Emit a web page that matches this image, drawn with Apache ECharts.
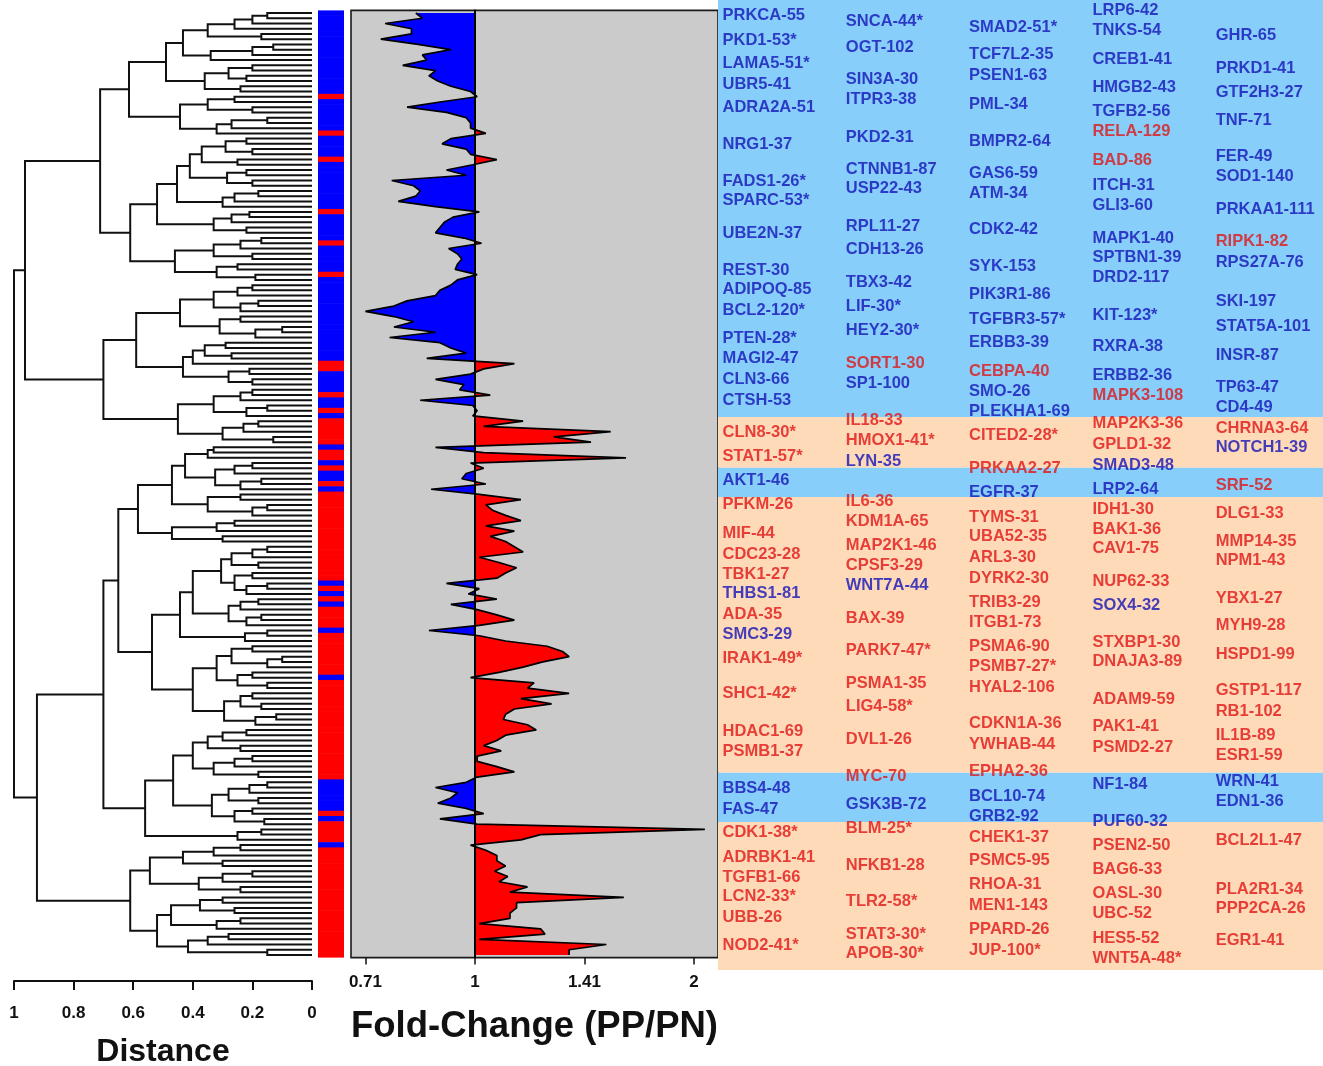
<!DOCTYPE html>
<html>
<head>
<meta charset="utf-8">
<title>Fold-Change (PP/PN)</title>
<script src="https://cdn.jsdelivr.net/npm/echarts@6/dist/echarts.min.js"></script>
<style>
html, body { margin: 0; padding: 0; background: #fff; }
#chart { width: 1323px; height: 1066px; }
</style>
</head>
<body>
<div id="chart"></div>
<script>
// log2 fold-change (PP/PN) for each leaf, top to bottom
var fcLog2 = [
    -0.27, -0.24, -0.41, -0.29, -0.29, -0.43, -0.26, -0.11, -0.24, -0.22,
    -0.33, -0.18, -0.21, -0.17, -0.11, -0.02, 0.01, -0.16, -0.31, -0.13,
    -0.04, -0.02, -0.02, 0.05, -0.11, -0.15, -0.04, -0.02, 0.10, -0.01,
    -0.13, -0.04, -0.38, -0.28, -0.25, -0.27, -0.35, -0.18, 0.02, -0.10,
    -0.14, -0.16, -0.18, -0.05, 0.03, -0.12, -0.08, -0.06, -0.08, -0.09,
    0.01, -0.08, -0.11, -0.16, -0.18, -0.31, -0.37, -0.50, -0.37, -0.28,
    -0.37, -0.18, -0.39, -0.16, -0.11, -0.04, -0.22, 0.18, 0.04, -0.02,
    -0.18, -0.05, -0.07, 0.07, -0.25, -0.01, 0.01, -0.01, 0.22, 0.04,
    0.62, 0.36, 0.53, -0.18, 0.04, 0.69, -0.02, 0.04, -0.04, -0.06,
    0.05, -0.20, 0.02, 0.21, 0.05, 0.08, 0.14, 0.21, 0.05, 0.18,
    0.07, 0.14, 0.18, 0.22, 0.02, 0.11, 0.19, 0.14, 0.10, -0.13,
    0.02, -0.03, 0.10, -0.11, 0.01, 0.10, 0.18, 0.02, -0.21, 0.02,
    0.14, 0.33, 0.40, 0.43, 0.31, 0.22, 0.11, -0.02, 0.27, 0.24,
    0.43, 0.21, 0.35, 0.18, 0.14, 0.13, 0.24, 0.28, 0.14, 0.10,
    0.04, 0.12, 0.01, 0.01, 0.10, 0.18, 0.01, -0.04, -0.18, -0.08,
    -0.11, -0.17, -0.04, 0.04, -0.16, 0.01, 1.05, 0.30, 0.21, -0.02,
    0.05, 0.10, 0.10, 0.14, 0.09, 0.15, 0.11, 0.24, 0.16, 0.68,
    0.19, 0.19, 0.16, 0.16, 0.02, 0.30, 0.32, 0.02, 0.60, 0.43, 0.43
];

// fold-change axis ticks (log2 position and printed label)
var fcTickPos = [-0.5, 0, 0.5, 1];
var fcTickLabels = ['0.71', '1', '1.41', '2'];

// dendrogram: [height, upper, lower], a leaf is 0
var treeA1 = [0.711,
    [0.614,
        [0.49,
            [0.433, [0.35, [0.26, [0.2, [0.15, 0, 0], 0], 0], [0.17, 0, 0]], [0.34, [0.2, [0.13, 0, 0], 0], 0]],
            [0.36, [0.28, [0.2, 0, 0], [0.22, 0, 0]], [0.24, 0, 0]]],
        [0.443, [0.35, [0.26, 0, 0], [0.2, 0, 0]], [0.32, [0.27, [0.15, 0, 0], 0], 0]]],
    [0.61,
        [0.52,
            [0.453,
                [0.41, [0.37, [0.29, [0.22, 0, 0], [0.2, 0, 0]], [0.25, 0, 0]], [0.285, [0.22, 0, 0], [0.2, 0, 0]]],
                [0.3, [0.26, [0.18, 0, 0], 0], 0]],
            [0.33, [0.27, [0.21, 0, 0], 0], [0.22, 0, 0]]],
        [0.46, [0.33, [0.24, [0.17, 0, 0], 0], [0.2, 0, 0]], [0.32, [0.25, 0, 0], [0.19, 0, 0]]]]];
var treeA2 = [0.70,
    [0.59,
        [0.443, [0.33, [0.25, [0.2, 0, 0], 0], [0.24, [0.18, 0, 0], 0]], [0.31, [0.24, 0, 0], [0.19, [0.1, 0, 0], 0]]],
        [0.433, [0.40, [0.36, [0.29, 0, 0], [0.27, 0, 0]], 0], [0.28, [0.21, 0, 0], [0.2, 0, 0]]]],
    [0.45, [0.33, [0.24, [0.2, 0, 0], 0], [0.22, [0.15, 0, 0], 0]], [0.3, [0.23, [0.18, 0, 0], 0], [0.13, 0, 0]]]];
var treeB1 = [0.70,
    [0.65,
        [0.584,
            [0.47,
                [0.426, [0.35, [0.33, 0, 0], 0], [0.325, [0.26, [0.2, 0, 0], 0], [0.24, [0.17, 0, 0], 0]]],
                [0.35, [0.24, 0, 0], [0.2, [0.15, 0, 0], 0]]],
            [0.47, [0.32, [0.26, 0, 0], 0], [0.3, 0, 0]]],
        [0.537,
            [0.443,
                [0.40,
                    [0.305, [0.27, [0.2, [0.15, 0, 0], 0], [0.18, 0, 0]], [0.26, [0.2, 0, 0], [0.22, [0.15, 0, 0], 0]]],
                    [0.28, [0.24, [0.18, 0, 0], 0], [0.22, [0.17, 0, 0], 0]]],
                [0.225, [0.15, 0, 0], 0]],
            [0.40,
                [0.32, [0.27, [0.2, 0, 0], [0.15, [0.1, 0, 0], 0]], [0.25, [0.2, 0, 0], [0.15, 0, 0]]],
                [0.295, [0.24, [0.2, 0, 0], [0.17, 0, 0]], [0.19, [0.12, 0, 0], 0]]]]],
    [0.56,
        [0.466,
            [0.40, [0.35, [0.3, [0.22, 0, 0], 0], [0.24, 0, 0]], [0.33, [0.26, [0.2, 0, 0], 0], [0.18, 0, 0]]],
            [0.336, [0.28, [0.21, [0.15, 0, 0], 0], [0.18, 0, 0]], [0.26, [0.2, 0, 0], [0.16, 0, 0]]]],
        [0.25, [0.17, 0, 0], 0]]];
var treeB2 = [0.61,
    [0.544, [0.433, [0.33, [0.24, 0, 0], 0], [0.3, 0, 0]], [0.38, [0.3, [0.2, 0, 0], 0], [0.24, 0, 0]]],
    [0.52, [0.473, [0.376, [0.3, 0, 0], [0.26, 0, 0]], [0.32, [0.24, 0, 0], 0]], [0.416, [0.35, [0.28, 0, 0], 0], [0.15, 0, 0]]]];
var treeRoot = [1.0, [0.963, treeA1, treeA2], [0.923, treeB1, treeB2]];

// distance axis ticks
var distTicks = [0, 0.2, 0.4, 0.6, 0.8, 1];

// gene labels, five columns; rows are leaf positions
var col1Genes = ['PRKCA-55', 'PKD1-53*', 'LAMA5-51*', 'UBR5-41', 'ADRA2A-51', 'NRG1-37', 'FADS1-26*', 'SPARC-53*', 'UBE2N-37', 'REST-30', 'ADIPOQ-85', 'BCL2-120*', 'PTEN-28*', 'MAGI2-47', 'CLN3-66', 'CTSH-53', 'CLN8-30*', 'STAT1-57*', 'AKT1-46', 'PFKM-26', 'MIF-44', 'CDC23-28', 'TBK1-27', 'THBS1-81', 'ADA-35', 'SMC3-29', 'IRAK1-49*', 'SHC1-42*', 'HDAC1-69', 'PSMB1-37', 'BBS4-48', 'FAS-47', 'CDK1-38*', 'ADRBK1-41', 'TGFB1-66', 'LCN2-33*', 'UBB-26', 'NOD2-41*'];
var col1Rows = [0.4, 5.2, 9.6, 13.6, 18.0, 25.2, 32.1, 35.9, 42.2, 49.1, 52.9, 56.8, 62.1, 66.1, 70.1, 74.0, 80.1, 84.7, 89.4, 94.0, 99.4, 103.4, 107.2, 111.0, 114.9, 118.7, 123.3, 130.1, 137.2, 141.2, 148.1, 152.1, 156.5, 161.3, 165.1, 168.9, 172.8, 178.1];
var col2Genes = ['SNCA-44*', 'OGT-102', 'SIN3A-30', 'ITPR3-38', 'PKD2-31', 'CTNNB1-87', 'USP22-43', 'RPL11-27', 'CDH13-26', 'TBX3-42', 'LIF-30*', 'HEY2-30*', 'SORT1-30', 'SP1-100', 'IL18-33', 'HMOX1-41*', 'LYN-35', 'IL6-36', 'KDM1A-65', 'MAP2K1-46', 'CPSF3-29', 'WNT7A-44', 'BAX-39', 'PARK7-47*', 'PSMA1-35', 'LIG4-58*', 'DVL1-26', 'MYC-70', 'GSK3B-72', 'BLM-25*', 'NFKB1-28', 'TLR2-58*', 'STAT3-30*', 'APOB-30*'];
var col2Rows = [1.7, 6.5, 12.6, 16.6, 23.7, 29.8, 33.6, 40.7, 45.1, 51.4, 56.0, 60.6, 66.9, 70.7, 77.8, 81.6, 85.6, 93.3, 97.1, 101.7, 105.5, 109.3, 115.6, 121.9, 128.2, 132.6, 138.9, 145.8, 151.2, 155.9, 162.8, 169.7, 176.0, 179.8];
var col3Genes = ['SMAD2-51*', 'TCF7L2-35', 'PSEN1-63', 'PML-34', 'BMPR2-64', 'GAS6-59', 'ATM-34', 'CDK2-42', 'SYK-153', 'PIK3R1-86', 'TGFBR3-57*', 'ERBB3-39', 'CEBPA-40', 'SMO-26', 'PLEKHA1-69', 'CITED2-28*', 'PRKAA2-27', 'EGFR-37', 'TYMS-31', 'UBA52-35', 'ARL3-30', 'DYRK2-30', 'TRIB3-29', 'ITGB1-73', 'PSMA6-90', 'PSMB7-27*', 'HYAL2-106', 'CDKN1A-36', 'YWHAB-44', 'EPHA2-36', 'BCL10-74', 'GRB2-92', 'CHEK1-37', 'PSMC5-95', 'RHOA-31', 'MEN1-143', 'PPARD-26', 'JUP-100*'];
var col3Rows = [2.7, 8.0, 11.9, 17.4, 24.5, 30.6, 34.4, 41.3, 48.4, 53.7, 58.5, 62.9, 68.4, 72.4, 76.1, 80.8, 87.0, 91.7, 96.3, 100.1, 104.0, 108.0, 112.6, 116.4, 121.0, 124.8, 128.8, 135.7, 139.7, 145.0, 149.8, 153.5, 157.5, 162.0, 166.6, 170.6, 175.2, 179.1];
var col4Genes = ['LRP6-42', 'TNKS-54', 'CREB1-41', 'HMGB2-43', 'TGFB2-56', 'RELA-129', 'BAD-86', 'ITCH-31', 'GLI3-60', 'MAPK1-40', 'SPTBN1-39', 'DRD2-117', 'KIT-123*', 'RXRA-38', 'ERBB2-36', 'MAPK3-108', 'MAP2K3-36', 'GPLD1-32', 'SMAD3-48', 'LRP2-64', 'IDH1-30', 'BAK1-36', 'CAV1-75', 'NUP62-33', 'SOX4-32', 'STXBP1-30', 'DNAJA3-89', 'ADAM9-59', 'PAK1-41', 'PSMD2-27', 'NF1-84', 'PUF60-32', 'PSEN2-50', 'BAG6-33', 'OASL-30', 'UBC-52', 'HES5-52', 'WNT5A-48*'];
var col4Rows = [-0.4, 3.4, 8.8, 14.3, 18.9, 22.7, 28.1, 32.9, 36.7, 43.0, 46.8, 50.6, 57.7, 63.8, 69.2, 73.0, 78.5, 82.4, 86.4, 91.0, 94.8, 98.6, 102.4, 108.7, 113.3, 120.2, 124.0, 131.1, 136.4, 140.3, 147.5, 154.4, 159.0, 163.6, 168.2, 172.0, 176.8, 180.6];
var col5Genes = ['GHR-65', 'PRKD1-41', 'GTF2H3-27', 'TNF-71', 'FER-49', 'SOD1-140', 'PRKAA1-111', 'RIPK1-82', 'RPS27A-76', 'SKI-197', 'STAT5A-101', 'INSR-87', 'TP63-47', 'CD4-49', 'CHRNA3-64', 'NOTCH1-39', 'SRF-52', 'DLG1-33', 'MMP14-35', 'NPM1-43', 'YBX1-27', 'MYH9-28', 'HSPD1-99', 'GSTP1-117', 'RB1-102', 'IL1B-89', 'ESR1-59', 'WRN-41', 'EDN1-36', 'BCL2L1-47', 'PLA2R1-34', 'PPP2CA-26', 'EGR1-41'];
var col5Rows = [4.2, 10.5, 15.1, 20.5, 27.5, 31.3, 37.5, 43.6, 47.6, 55.2, 59.8, 65.4, 71.5, 75.3, 79.3, 83.1, 90.2, 95.6, 100.9, 104.7, 111.8, 117.1, 122.5, 129.4, 133.4, 138.0, 141.8, 146.8, 150.6, 158.2, 167.4, 171.2, 177.3];

// genes printed in red
var upGenes = ['CLN8-30*', 'STAT1-57*', 'PFKM-26', 'MIF-44', 'CDC23-28', 'TBK1-27', 'ADA-35', 'IRAK1-49*', 'SHC1-42*', 'HDAC1-69', 'PSMB1-37', 'CDK1-38*', 'ADRBK1-41', 'TGFB1-66', 'LCN2-33*', 'UBB-26', 'NOD2-41*',
    'SORT1-30', 'IL18-33', 'HMOX1-41*', 'IL6-36', 'KDM1A-65', 'MAP2K1-46', 'CPSF3-29', 'BAX-39', 'PARK7-47*', 'PSMA1-35', 'LIG4-58*', 'DVL1-26', 'MYC-70', 'BLM-25*', 'NFKB1-28', 'TLR2-58*', 'STAT3-30*', 'APOB-30*',
    'CEBPA-40', 'CITED2-28*', 'PRKAA2-27', 'TYMS-31', 'UBA52-35', 'ARL3-30', 'DYRK2-30', 'TRIB3-29', 'ITGB1-73', 'PSMA6-90', 'PSMB7-27*', 'HYAL2-106', 'CDKN1A-36', 'YWHAB-44', 'EPHA2-36', 'CHEK1-37', 'PSMC5-95', 'RHOA-31', 'MEN1-143', 'PPARD-26', 'JUP-100*',
    'RELA-129', 'BAD-86', 'MAPK3-108', 'MAP2K3-36', 'GPLD1-32', 'IDH1-30', 'BAK1-36', 'CAV1-75', 'NUP62-33', 'STXBP1-30', 'DNAJA3-89', 'ADAM9-59', 'PAK1-41', 'PSMD2-27', 'PSEN2-50', 'BAG6-33', 'OASL-30', 'UBC-52', 'HES5-52', 'WNT5A-48*',
    'RIPK1-82', 'CHRNA3-64', 'SRF-52', 'DLG1-33', 'MMP14-35', 'NPM1-43', 'YBX1-27', 'MYH9-28', 'HSPD1-99', 'GSTP1-117', 'RB1-102', 'IL1B-89', 'ESR1-59', 'BCL2L1-47', 'PLA2R1-34', 'PPP2CA-26', 'EGR1-41'];

// background bands behind the labels (edges in leaf positions)
var bandEdges = [77.2, 86.9, 92.5, 145.2, 154.6];
var bandUp = [false, true, false, true, false, true];

var BLUE = '#0000ff', RED = '#ff0000';
var BAND_BLUE = '#87cefa', BAND_PEACH = '#ffdab9';
var TEXT_BLUE = '#1414b8', TEXT_RED = '#e01616';
var FONT = 'Liberation Sans, Arial, Helvetica, sans-serif';

var N = fcLog2.length;
var plotTop = 10.4, plotBottom = 957.6;
var step = (plotBottom - plotTop) / N;
var labelTop = 0, labelBottom = 970;
var labelRowMin = -0.5 - (plotTop - labelTop) / step;
var labelRowMax = N - 0.5 + (labelBottom - plotBottom) / step;
var labelLeft = 718, labelWidth = 605, firstColPx = 722, colStepPx = 123.3;
var colMin = -(firstColPx - labelLeft) / colStepPx;
var colMax = colMin + labelWidth / colStepPx;

var leafCats = fcLog2.map(function(v, i) { return String(i); });

//树状图线段
var dendroSegments = [];
var leafCounter = 0;
function layoutNode(node) {
    if (node === 0) {
        return { h: 0, y: leafCounter++ };
    }
    var up = layoutNode(node[1]);
    var lo = layoutNode(node[2]);
    dendroSegments.push({
        coords: [[up.h, up.y], [node[0], up.y], [node[0], lo.y], [lo.h, lo.y]]
    });
    return { h: node[0], y: (up.y + lo.y) / 2 };
}
layoutNode(treeRoot);
if (leafCounter !== N) console.warn('leaf count', leafCounter, N);

//基因标签
var labelPoints = [];
[[col1Genes, col1Rows], [col2Genes, col2Rows], [col3Genes, col3Rows], [col4Genes, col4Rows], [col5Genes, col5Rows]]
    .forEach(function(col, c) {
        col[0].forEach(function(g, k) {
            labelPoints.push({
                name: g,
                value: [c, col[1][k]],
                label: { color: upGenes.indexOf(g) >= 0 ? TEXT_RED : TEXT_BLUE }
            });
        });
    });

var bandAreas = [];
for (var b = 0; b < bandUp.length; b++) {
    var lo = b === 0 ? labelRowMin : bandEdges[b - 1];
    var hi = b === bandUp.length - 1 ? labelRowMax : bandEdges[b];
    bandAreas.push([
        { yAxis: lo, itemStyle: { color: bandUp[b] ? BAND_PEACH : BAND_BLUE, opacity: 1 } },
        { yAxis: hi }
    ]);
}

var gridH = plotBottom - plotTop;
var option = {
    animation: false,
    backgroundColor: '#ffffff',
    grid: [
        { left: 14, top: plotTop, width: 298, height: gridH, outerBoundsMode: 'none' },
        { left: 318, top: plotTop, width: 26, height: gridH, outerBoundsMode: 'none' },
        { left: 351, top: plotTop, width: 367, height: gridH, outerBoundsMode: 'none',
          show: true, backgroundColor: '#cbcbcb', borderColor: '#1a1a1a', borderWidth: 1.6 },
        { left: labelLeft, top: labelTop, width: labelWidth, height: labelBottom - labelTop, outerBoundsMode: 'none' }
    ],
    xAxis: [
        {
            gridIndex: 0, type: 'value', min: 0, max: 1, interval: 0.2, inverse: true,
            position: 'bottom', offset: 23.4,
            axisLine: { show: true, onZero: false, lineStyle: { color: '#111', width: 2 } },
            axisTick: { show: true, length: 9, lineStyle: { color: '#111', width: 2 } },
            axisLabel: { margin: 24, color: '#111', fontSize: 17, fontWeight: 'bold', fontFamily: FONT,
                formatter: function(v) { return distTicks.indexOf(v) >= 0 ? String(v) : ''; } },
            splitLine: { show: false },
            name: 'Distance', nameLocation: 'middle', nameGap: 55,
            nameTextStyle: { color: '#111', fontSize: 32, fontWeight: 'bold', fontFamily: FONT }
        },
        { gridIndex: 1, type: 'value', min: 0, max: 1, show: false },
        {
            gridIndex: 2, type: 'value', min: -0.566, max: 1.11,
            axisLine: { show: false, onZero: false },
            axisTick: { show: true, length: 7, customValues: fcTickPos, lineStyle: { color: '#111', width: 1.5 } },
            axisLabel: { margin: 16, color: '#111', fontSize: 17, fontWeight: 'bold', fontFamily: FONT,
                customValues: fcTickPos,
                formatter: function(v) {
                    var k = fcTickPos.indexOf(v);
                    return k >= 0 ? fcTickLabels[k] : '';
                } },
            splitLine: { show: false },
            name: 'Fold-Change (PP/PN)', nameLocation: 'middle', nameGap: 51,
            nameTextStyle: { color: '#111', fontSize: 36.5, fontWeight: 'bold', fontFamily: FONT }
        },
        { gridIndex: 3, type: 'value', min: colMin, max: colMax, show: false }
    ],
    yAxis: [
        { gridIndex: 0, type: 'value', min: -0.5, max: N - 0.5, inverse: true, show: false },
        { gridIndex: 1, type: 'category', data: leafCats, inverse: true, show: false },
        {
            gridIndex: 2, type: 'category', data: leafCats, inverse: true, z: 3,
            axisLine: { show: true, onZero: true, lineStyle: { color: '#000', width: 2 } },
            axisTick: { show: false }, axisLabel: { show: false }, splitLine: { show: false }
        },
        { gridIndex: 3, type: 'value', min: labelRowMin, max: labelRowMax, inverse: true, show: false }
    ],
    visualMap: {
        type: 'piecewise', show: false, seriesIndex: 2, dimension: 0,
        pieces: [{ min: -5, max: 0, color: BLUE }, { gt: 0, max: 5, color: RED }]
    },
    series: [
        {
            type: 'lines', coordinateSystem: 'cartesian2d', xAxisIndex: 0, yAxisIndex: 0,
            polyline: true, silent: true,
            lineStyle: { color: '#111', width: 2, opacity: 1 },
            data: dendroSegments
        },
        {
            type: 'bar', xAxisIndex: 1, yAxisIndex: 1, silent: true,
            barWidth: step + 0.6,
            data: fcLog2.map(function(v) {
                return { value: 1, itemStyle: { color: v >= 0 ? RED : BLUE } };
            })
        },
        {
            type: 'line', xAxisIndex: 2, yAxisIndex: 2, silent: true, z: 2,
            symbol: 'none', showSymbol: false,
            lineStyle: { color: '#000', width: 1.7 },
            areaStyle: { opacity: 1 },
            data: fcLog2.map(function(v, i) { return [v, i]; })
        },
        {
            type: 'scatter', xAxisIndex: 3, yAxisIndex: 3, silent: true,
            symbolSize: 1, itemStyle: { color: 'rgba(0,0,0,0)' },
            label: { show: true, position: 'right', distance: 0, formatter: '{b}',
                fontSize: 16.5, fontWeight: 'bold', fontFamily: FONT },
            markArea: { silent: true, data: bandAreas },
            data: labelPoints
        }
    ]
};

var chart = echarts.init(document.getElementById('chart'));
chart.setOption(option);
</script>
</body>
</html>
